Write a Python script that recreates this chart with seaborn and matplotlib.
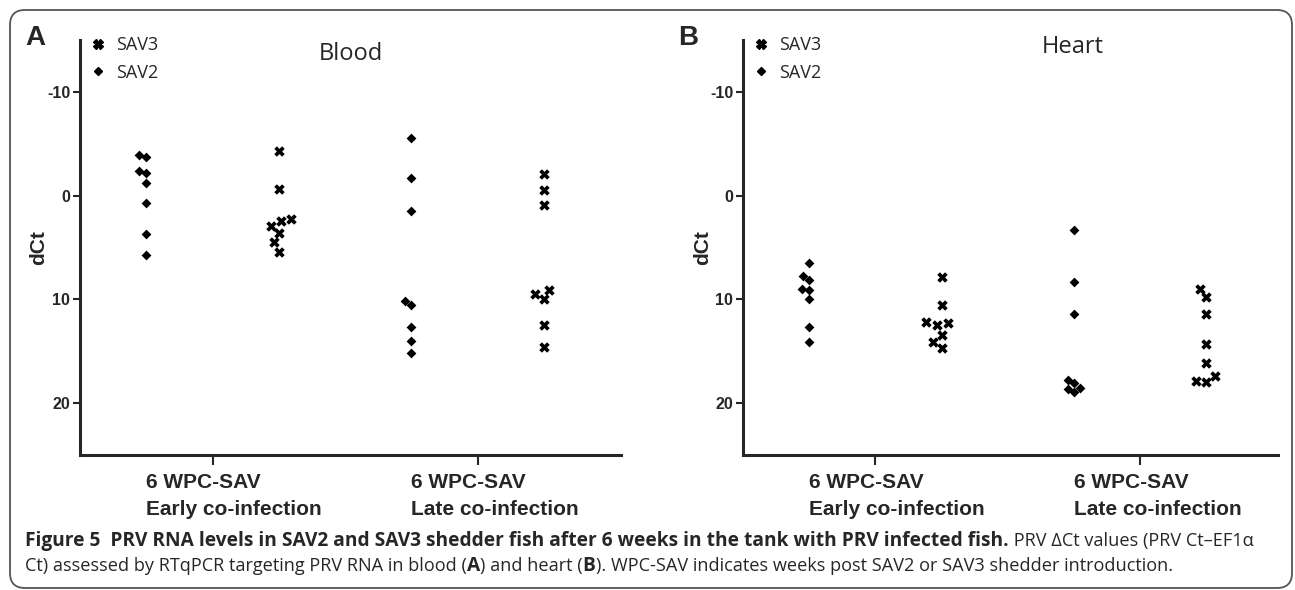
import pandas as pd
import matplotlib.pyplot as plt
import matplotlib.transforms as mtransforms
import seaborn as sns
from matplotlib.lines import Line2D
from matplotlib.patches import FancyBboxPatch


sns.set_style("ticks")
plt.rcParams['font.family'] = ['Liberation Sans', 'DejaVu Sans']
plt.rcParams['axes.unicode_minus'] = False

# dCt values (8 fish per column)
blood_early_sav2 = [-3.9, -3.7, -2.4, -2.2, -1.2, 0.7, 3.7, 5.7]
blood_early_sav3 = [-4.3, -0.6, 2.3, 2.4, 2.9, 3.6, 4.5, 5.4]
blood_late_sav2 = [-5.6, -1.7, 1.5, 10.2, 10.5, 12.7, 14.0, 15.2]
blood_late_sav3 = [-2.1, -0.5, 0.9, 9.1, 9.5, 10.0, 12.5, 14.6]
heart_early_sav2 = [6.5, 7.7, 8.1, 9.0, 9.1, 10.0, 12.7, 14.1]
heart_early_sav3 = [7.8, 10.5, 12.2, 12.3, 12.5, 13.4, 14.1, 14.7]
heart_late_sav2 = [3.3, 8.3, 11.4, 17.8, 18.1, 18.5, 18.6, 18.9]
heart_late_sav3 = [9.0, 9.8, 11.4, 14.3, 16.1, 17.4, 17.9, 18.0]

columns = ['Early SAV2', 'Early SAV3', 'Late SAV2', 'Late SAV3']
group_labels = ['6 WPC-SAV\nEarly co-infection', '6 WPC-SAV\nLate co-infection']
yticks = [-10, 0, 10, 20]

blood = dict(zip(columns, [blood_early_sav2, blood_early_sav3,
                           blood_late_sav2, blood_late_sav3]))
heart = dict(zip(columns, [heart_early_sav2, heart_early_sav3,
                           heart_late_sav2, heart_late_sav3]))

df = pd.DataFrame(
    [(tissue, col, v)
     for tissue, d in (('Blood', blood), ('Heart', heart))
     for col, vals in d.items() for v in vals],
    columns=['tissue', 'column', 'dct'])
df['virus'] = df['column'].str.split().str[1]

W, H = 1295, 590
fig = plt.figure(figsize=(W / 100, H / 100), dpi=100)

# letter, tissue, axes left/right px, xmax, title pos, letter pos
panels = [
    ('A', 'Blood', 80, 621, 3.58, (0.5, 0.952), 35),
    ('B', 'Heart', 743, 1278, 3.54, (0.616, 0.969), 688),
]

for letter, tissue, x0, x1, xmax, tpos, lx in panels:
    ax = fig.add_axes([x0 / W, (H - 455) / H, (x1 - x0) / W, 415 / H])
    sub = df[df.tissue == tissue]

    sns.swarmplot(data=sub[sub.virus == 'SAV2'], x='column', y='dct',
                  order=columns, color='black', marker='D', size=5, ax=ax)
    sns.swarmplot(data=sub[sub.virus == 'SAV3'], x='column', y='dct',
                  order=columns, color='black', marker='X', size=7.5, ax=ax)

    ax.set_xlim(-0.5, xmax)
    ax.set_ylim(25, -15)
    ax.set_yticks(yticks)
    ax.set_yticklabels([str(t) for t in yticks], fontweight='bold', fontsize=11.5)
    ax.set_xticks([0.5, 2.5])
    ax.set_xticklabels([])
    ax.set_xlabel('')
    ax.set_ylabel('dCt', fontweight='bold', fontsize=15)
    ax.yaxis.set_label_coords(-0.058, 0.5)

    sns.despine(ax=ax)
    for s in ('left', 'bottom'):
        ax.spines[s].set_linewidth(2.2)
    ax.tick_params(axis='y', length=5, width=1.5, pad=2)
    ax.tick_params(axis='x', length=7, width=1.5)

    trans = mtransforms.blended_transform_factory(ax.transData, ax.transAxes)
    for pos, lab in zip([0, 2], group_labels):
        ax.text(pos, -0.043, lab, transform=trans, ha='left', va='top',
                fontweight='bold', fontsize=15, linespacing=1.55)

    ax.text(tpos[0], tpos[1], tissue, transform=ax.transAxes, ha='center',
            va='baseline', fontsize=17, family='Open Sans')

    handles = [Line2D([], [], ls='none', marker='X', color='black', ms=6.5,
                      label='SAV3'),
               Line2D([], [], ls='none', marker='D', color='black', ms=4.5,
                      label='SAV2')]
    ax.legend(handles=handles, loc='upper left', bbox_to_anchor=(0.024, 1.01),
              frameon=False, prop={'family': 'Open Sans', 'size': 13},
              handlelength=0.6, handletextpad=0.7, labelspacing=0.55,
              borderaxespad=0, borderpad=0)

    fig.text(lx / W, 1 - 38 / H, letter, fontsize=20, fontweight='bold',
             ha='center', va='center')

# caption
cap = fig.add_axes([0, 0, 1, 1], zorder=-1)
cap.axis('off')


def caption_line(parts, x, y):
    prev = None
    for text, weight in parts:
        kw = dict(fontsize=13.8 if weight == 'bold' else 13.1,
                  fontweight=weight, va='baseline', ha='left',
                  family=['Open Sans', 'DejaVu Sans'])
        if prev is None:
            prev = cap.text(x, y, text, transform=fig.transFigure, **kw)
        else:
            prev = cap.annotate(text, xy=(1, y), xycoords=(prev, 'figure fraction'),
                                **kw)


caption_line([
    ('Figure 5  PRV RNA levels in SAV2 and SAV3 shedder fish after 6 weeks '
     'in the tank with PRV infected fish.', 'bold'),
    (' PRV \u0394Ct values (PRV Ct\u2013EF1\u03b1', 'normal'),
], 25 / W, (H - 546) / H)
caption_line([
    ('Ct) assessed by RTqPCR targeting PRV RNA in blood (', 'normal'),
    ('A', 'bold'),
    (') and heart (', 'normal'),
    ('B', 'bold'),
    ('). WPC-SAV indicates weeks post SAV2 or SAV3 shedder introduction.', 'normal'),
], 25 / W, (H - 571) / H)

# rounded frame around the figure
frame = FancyBboxPatch((0.10, 0.02), 12.82, 5.78,
                       boxstyle='round,pad=0,rounding_size=0.15',
                       transform=fig.dpi_scale_trans, fill=False,
                       edgecolor='#555555', linewidth=1.3)
fig.patches.append(frame)

plt.savefig('out.png', dpi=100)
